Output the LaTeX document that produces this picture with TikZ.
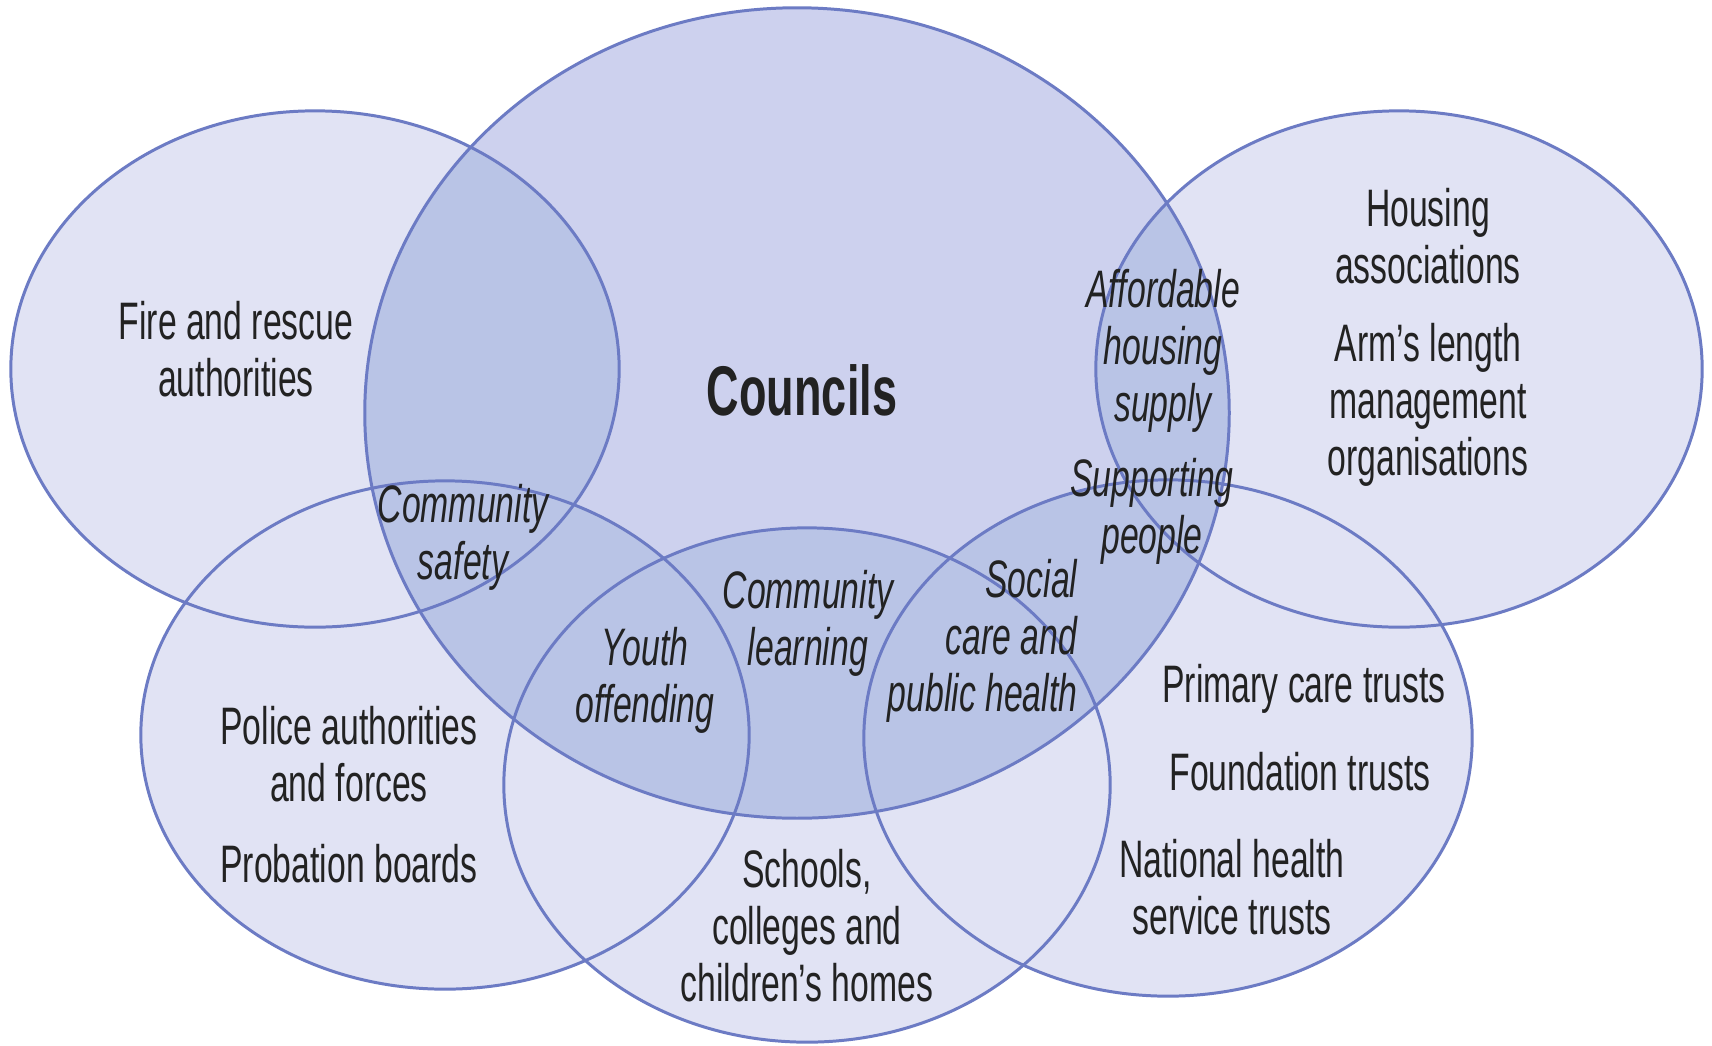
\documentclass[tikz,border=0pt]{standalone}
\usepackage{fontspec}
\setmainfont[FakeStretch=0.64]{Liberation Sans}
\definecolor{lightfill}{HTML}{E1E3F4}
\definecolor{midfill}{HTML}{CDD1EE}
\definecolor{darkfill}{HTML}{B9C4E6}
\definecolor{edgecol}{HTML}{6C7BC4}
\definecolor{txtcol}{HTML}{222222}
\tikzset{
  lbl/.style={font=\fontsize{15}{16.2}\selectfont, align=center, inner sep=0pt, text=txtcol},
  ilbl/.style={lbl, font=\fontsize{15}{16.2}\selectfont\itshape},
  ring/.style={draw=edgecol, line width=0.85pt}
}
\begin{document}
\begin{tikzpicture}[x=0.01cm, y=-0.01cm]
\useasboundingbox (0,0) rectangle (1712,1045);
\fill[white] (0,0) rectangle (1712,1045);
% centres
\coordinate (fire) at (315,369);
\coordinate (housing) at (1399,369);
\coordinate (police) at (445,735);
\coordinate (schools) at (807,785);
\coordinate (health) at (1168,738);
\coordinate (councils) at (797,413);
% light fills
\foreach \c/\rx/\ry in {fire/3.04/2.58, housing/3.03/2.58, police/3.04/2.54, schools/3.03/2.57, health/3.04/2.58}
  \fill[lightfill] (\c) ellipse [x radius=\rx cm, y radius=\ry cm];
% councils fill
\fill[midfill] (councils) ellipse [x radius=4.32cm, y radius=4.05cm];
% overlaps
\foreach \c/\rx/\ry in {fire/3.04/2.58, housing/3.03/2.58, police/3.04/2.54, schools/3.03/2.57, health/3.04/2.58}{
  \begin{scope}
    \clip (councils) ellipse [x radius=4.32cm, y radius=4.05cm];
    \fill[darkfill] (\c) ellipse [x radius=\rx cm, y radius=\ry cm];
  \end{scope}
}
% outlines
\foreach \c/\rx/\ry in {fire/3.04/2.58, housing/3.03/2.58, police/3.04/2.54, schools/3.03/2.57, health/3.04/2.58, councils/4.32/4.05}
  \draw[ring] (\c) ellipse [x radius=\rx cm, y radius=\ry cm];
% labels
\node[lbl, font=\fontsize{20}{22}\selectfont\bfseries, anchor=base] (councilsT) at (802,415) {Councils};
\node[lbl] (fireT) at (236,349) {Fire and rescue\\authorities};
\node[lbl] (housingT) at (1428,236) {Housing\\associations};
\node[lbl] (almoT) at (1428,405) {Arm’s length\\management\\organisations};
\node[lbl] (policeT) at (349,754) {Police authorities\\and forces};
\node[lbl, anchor=base] (probT) at (349,882) {Probation boards};
\node[lbl] (schoolsT) at (807,926) {Schools,\\colleges and\\children’s homes};
\node[lbl, anchor=base] (pctT) at (1304,702) {Primary care trusts};
\node[lbl, anchor=base] (ftT) at (1300,790) {Foundation trusts};
\node[lbl] (nhsT) at (1232,887) {National health\\service trusts};
% overlap labels
\node[ilbl] (safetyT) at (463,537) {Community\\safety};
\node[ilbl] (youthT) at (645,680) {Youth\\offending};
\node[ilbl] (learnT) at (808,623) {Community\\learning};
\node[ilbl, align=right, anchor=east] (socialT) at (1078,641) {Social\\care and\\public health};
\node[ilbl] (affordT) at (1163,351) {Affordable\\housing\\supply};
\node[ilbl] (suppT) at (1152,511) {Supporting\\people};
\end{tikzpicture}
\end{document}
